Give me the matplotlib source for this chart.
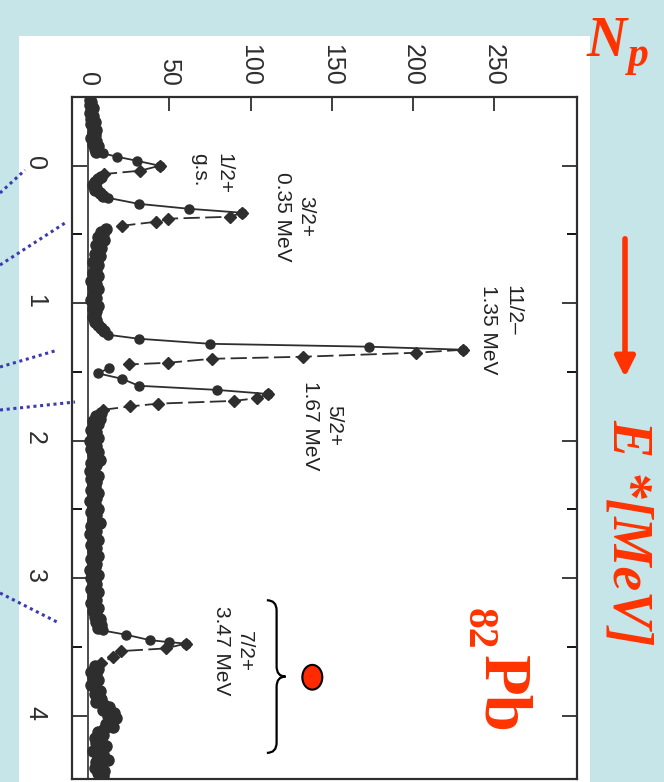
import numpy as np
import matplotlib.pyplot as plt
from matplotlib.patches import Rectangle, Ellipse, FancyArrowPatch, PathPatch
from matplotlib.path import Path
from matplotlib.lines import Line2D

W, H = 664, 782
BLUE = "#c5e5e8"
RED = "#ff3300"
INK = "#2e2e2e"

# background channels: energy (MeV) and counts
bg1_E = np.round(np.arange(-0.48, -0.095, 0.02), 2)
bg1_N = [1, 2, 1, 3, 2, 1, 3, 2, 4, 2, 3, 5, 3, 4, 2, 5, 3, 6, 4, 5]
bg2_E = np.round(np.arange(0.08, 0.225, 0.02), 2)
bg2_N = [8, 6, 4, 3, 5, 4, 7, 9]
bg3_E = np.round(np.arange(0.46, 1.205, 0.02), 2)
bg3_N = [11, 8, 9, 6, 10, 7, 5, 8, 6, 4, 7, 5, 3, 6, 4, 5, 3, 6, 4, 2,
         5, 3, 6, 4, 3, 5, 2, 4, 6, 3, 5, 4, 3, 5, 4, 6, 8, 10]
bg4_E = np.round(np.arange(1.80, 3.365, 0.02), 2)
bg4_N = [8, 5, 7, 3, 6, 4, 2, 5, 3, 6, 1, 4, 5, 2, 6, 3, 4, 7, 2, 5,
         3, 1, 4, 6, 2, 5, 3, 4, 2, 6, 3, 5, 1, 4, 3, 6, 2, 5, 4, 3,
         7, 2, 4, 5, 1, 3, 6, 4, 2, 5, 3, 4, 6, 2, 3, 5, 4, 1, 3, 6,
         2, 4, 5, 3, 2, 6, 4, 3, 5, 2, 4, 6, 3, 5, 4, 7, 5, 8, 6]
bg5_E = np.round(np.arange(3.64, 4.465, 0.02), 2)
bg5_N = [4, 6, 2, 5, 3, 6, 4, 2, 5, 7, 4, 6, 8, 5,
         10, 13, 9, 16, 12, 17, 14, 11, 15, 10,
         6, 9, 4, 8, 5, 11, 7, 3, 9, 6, 12, 5, 8, 4, 10, 6, 9, 7]

# peaks
gs_E = [-0.09, -0.065, -0.036, 0.0, 0.036, 0.06]
gs_N = [9, 18, 30, 44, 32, 10]
p035_E = [0.233, 0.277, 0.313, 0.342, 0.371, 0.385, 0.407, 0.436]
p035_N = [12, 31, 62, 95, 87, 49, 42, 21]
p135_E = [1.229, 1.258, 1.295, 1.316, 1.338, 1.36, 1.389, 1.404, 1.433, 1.445]
p135_N = [12, 31, 75, 173, 231, 202, 132, 76, 49, 25]
p167_E = [1.47, 1.51, 1.55, 1.60, 1.63, 1.66, 1.69, 1.71, 1.73, 1.75, 1.775]
p167_N = [13, 6, 21, 31, 79, 111, 104, 90, 43, 26, 9]
p347_E = [3.38, 3.41, 3.45, 3.465, 3.475, 3.51, 3.53, 3.57, 3.62]
p347_N = [9, 23, 38, 50, 60, 48, 20, 15, 8]

labels = ["1/2+\ng.s.", "3/2+\n0.35 MeV", "11/2\u2013\n1.35 MeV", "5/2+\n1.67 MeV", "7/2+\n3.47 MeV"]
label_N = [76, 127, 254, 144, 89]
label_E = [-0.095, 0.37, 0.87, 1.89, 3.53]
label_align = ["left", "center", "left", "center", "center"]

count_ticks = [0, 50, 100, 150, 200, 250]
energy_ticks = [0, 1, 2, 3, 4]

brace_E = (3.16, 4.27)
brace_N = 116
dot_N, dot_E = 138, 3.72


def px(x, y):
    return x / W, 1 - y / H


fig = plt.figure(figsize=(W / 100, H / 100), dpi=100, facecolor=BLUE)
fig.add_artist(Rectangle(px(19, 782), 571 / W, 746 / H, transform=fig.transFigure,
                         facecolor="white", edgecolor="none", zorder=0))

x0, y1 = px(72, 97)
x1, y0 = px(577, 779)
ax = fig.add_axes([x0, y0, x1 - x0, y1 - y0])
ax.set_facecolor("white")
ax.set_xlim(-10, 301)
ax.set_ylim(4.46, -0.5)

ax.axvline(0, color=INK, lw=1.2, zorder=1)

for E, N in [(bg1_E, bg1_N), (bg2_E, bg2_N), (bg3_E, bg3_N), (bg4_E, bg4_N), (bg5_E, bg5_N)]:
    ax.plot(N, E, "-o", color=INK, ms=8, lw=2, zorder=3)

for E, N in [(gs_E, gs_N), (p035_E, p035_N), (p135_E, p135_N), (p167_E, p167_N), (p347_E, p347_N)]:
    k = int(np.argmax(N))
    ax.plot(N[:k + 1], E[:k + 1], "-o", color=INK, ms=6.5, lw=1.3, zorder=3)
    ax.plot(N[k:], E[k:], "D", color=INK, ms=6, zorder=3,
            ls=(0, (9, 3)), lw=1.3)

for txt, n, e, al in zip(labels, label_N, label_E, label_align):
    va = "top" if al == "left" else "center"
    ax.text(n, e, txt, rotation=-90, ha="center", va=va, multialignment=al,
            fontsize=15, family="Liberation Sans", color="#222222", linespacing=1.3)

# brace
b0, b1 = brace_E
bm = (b0 + b1) / 2
r = 0.075
verts = [(brace_N - 6, b0), (brace_N, b0), (brace_N, b0 + r),
         (brace_N, bm - r), (brace_N, bm), (brace_N + 5.5, bm),
         (brace_N, bm), (brace_N, bm + r),
         (brace_N, b1 - r), (brace_N, b1), (brace_N - 6, b1)]
codes = [Path.MOVETO, Path.CURVE3, Path.CURVE3, Path.LINETO, Path.CURVE3, Path.CURVE3,
         Path.CURVE3, Path.CURVE3, Path.LINETO, Path.CURVE3, Path.CURVE3]
ax.add_patch(PathPatch(Path(verts, codes), fill=False, lw=1.6, color="black", zorder=4))
ax.add_patch(Ellipse((dot_N, dot_E), 12.3, 0.18, facecolor="#ff2a00",
                     edgecolor="black", lw=1.5, zorder=5))

ax.xaxis.tick_top()
ax.set_xticks(count_ticks)
ax.set_yticks(energy_ticks)
ax.set_yticks([0.5, 1.5, 2.5, 3.5], minor=True)
ax.tick_params(axis="x", which="both", top=True, bottom=False, direction="in",
               length=10, width=1.3, labelrotation=-90, labelsize=18, pad=8, colors=INK)
ax.tick_params(axis="y", which="major", left=True, right=True, direction="in",
               length=11, width=1.3, labelrotation=-90, labelsize=18, pad=18, colors=INK)
ax.tick_params(axis="y", which="minor", left=True, right=True, direction="in",
               length=7, width=1.3)
for lab in ax.get_xticklabels() + ax.get_yticklabels():
    lab.set_family("Liberation Sans")
for s in ax.spines.values():
    s.set_linewidth(1.6)
    s.set_color(INK)

# slide decorations
serif = dict(family="Liberation Serif", fontweight="bold", color=RED)
fig.text(*px(587, 56), "N", fontsize=40, style="italic", va="baseline", ha="left", **serif)
fig.text(*px(628, 66), "p", fontsize=30, style="italic", va="baseline", ha="left", **serif)
fig.text(*px(628, 532), "E *[MeV]", rotation=-90, fontsize=40, style="italic",
         ha="center", va="center", **serif)
fig.text(*px(478, 629), "82", rotation=-90, fontsize=30, ha="center", va="center", **serif)
fig.text(*px(501, 694), "Pb", rotation=-90, fontsize=48, ha="center", va="center", **serif)
fig.add_artist(FancyArrowPatch(px(625, 236), px(625, 380), transform=fig.transFigure,
                               arrowstyle="-|>", mutation_scale=30, lw=4, color=RED))

dots = [((0, 193), (25, 170)), ((0, 265), (65, 223)), ((0, 367), (58, 350)),
        ((0, 410), (75, 402)), ((0, 593), (57, 622))]
for (xa, ya), (xb, yb) in dots:
    pa, pb = px(xa, ya), px(xb, yb)
    fig.add_artist(Line2D([pa[0], pb[0]], [pa[1], pb[1]], transform=fig.transFigure,
                          color="#3b3bb0", lw=2.2, ls=(0, (1, 1.2)), zorder=10))

fig.savefig("out.png", dpi=100, facecolor=BLUE)
